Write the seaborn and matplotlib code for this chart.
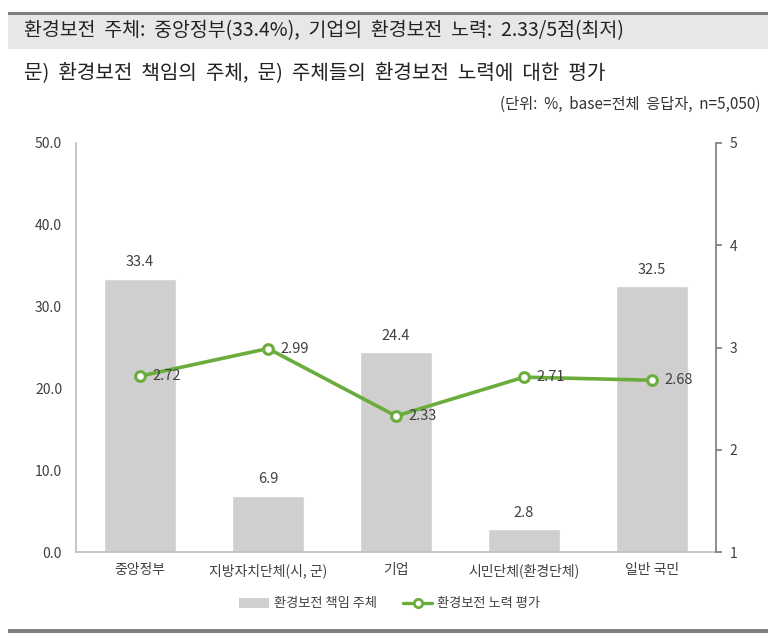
import matplotlib
matplotlib.use("Agg")
import matplotlib.pyplot as plt
import seaborn as sns
import pandas as pd
from matplotlib.lines import Line2D
from matplotlib.patches import Patch, Rectangle

categories = ["중앙정부", "지방자치단체(시, 군)", "기업", "시민단체(환경단체)", "일반 국민"]
share = [33.4, 6.9, 24.4, 2.8, 32.5]
effort = [2.72, 2.99, 2.33, 2.71, 2.68]
left_ticks = [0, 10, 20, 30, 40, 50]
right_ticks = [1, 2, 3, 4, 5]
bar_name = "환경보전 책임 주체"
line_name = "환경보전 노력 평가"
title = "환경보전  주체:  중앙정부(33.4%),  기업의  환경보전  노력:  2.33/5점(최저)"
subtitle = "문)  환경보전  책임의  주체,  문)  주체들의  환경보전  노력에  대한  평가"
unit = "(단위:  %,  base=전체  응답자,  n=5,050)"

sns.set_theme(style="white")
plt.rcParams['font.family'] = ['Noto Sans CJK KR', 'DejaVu Sans']

df = pd.DataFrame({"cat": categories, "share": share, "effort": effort})

fig = plt.figure(figsize=(7.78, 6.42), dpi=100)
W, H = 778, 642

def fx(x): return x / W
def fy(y): return 1 - y / H

# header band and rules
fig.patches.append(Rectangle((fx(8), fy(49)), fx(760), (49 - 12) / H, transform=fig.transFigure,
                             facecolor="#e7e7e7", edgecolor="none", zorder=0))
fig.patches.append(Rectangle((fx(8), fy(15)), fx(760), 3 / H, transform=fig.transFigure,
                             facecolor="#7f7f7f", edgecolor="none", zorder=1))
fig.patches.append(Rectangle((fx(8), fy(633)), fx(760), 4 / H, transform=fig.transFigure,
                             facecolor="#7f7f7f", edgecolor="none", zorder=1))
fig.text(fx(24), fy(31), title, fontsize=14, color="#222222", va="center", ha="left")
fig.text(fx(24), fy(73), subtitle, fontsize=14.5, color="#222222", va="center", ha="left")
fig.text(fx(760), fy(104), unit, fontsize=11, color="#333333", va="center", ha="right")

ax = fig.add_axes([fx(76), fy(552), (716 - 76) / W, (552 - 143) / H])
sns.barplot(data=df, x="cat", y="share", color="#d0cece", width=0.57, ax=ax,
            saturation=1, label=bar_name)
ax.set_ylim(0, 50)
ax.set_xlim(-0.5, 4.5)
ax.set_yticks(left_ticks)
ax.set_yticklabels([f"{v:.1f}" for v in left_ticks], fontsize=10, color="#404040")
ax.tick_params(axis="y", length=0, pad=10)
ax.tick_params(axis="x", length=0, pad=8, labelsize=10, labelcolor="#404040")
ax.set_xlabel("")
ax.set_ylabel("")
for s in ["top", "right"]:
    ax.spines[s].set_visible(False)
ax.spines["left"].set_color("#bfbfbf")
ax.spines["bottom"].set_color("#bfbfbf")
for i, v in enumerate(share):
    ax.text(i, v + 2.0, f"{v:.1f}", ha="center", va="center", fontsize=10.5, color="#404040")

ax2 = ax.twinx()
green = "#6aad3d"
sns.lineplot(x=list(range(len(categories))), y=effort, ax=ax2, color=green, lw=2.6,
             marker="o", markersize=7, markerfacecolor="white", markeredgecolor=green,
             markeredgewidth=2.2, label=line_name, legend=False)
ax2.set_ylim(1, 5)
ax2.set_yticks(right_ticks)
ax2.set_yticklabels([str(v) for v in right_ticks], fontsize=10, color="#404040")
ax2.tick_params(axis="y", length=4, color="#808080", pad=6, right=True)
for s in ["top", "left", "bottom"]:
    ax2.spines[s].set_visible(False)
ax2.spines["right"].set_color("#808080")
ax2.set_ylabel("")
for i, v in enumerate(effort):
    ax2.text(i + 0.1, v, f"{v:.2f}", ha="left", va="center", fontsize=10.5, color="#404040")

handles = [Patch(facecolor="#d0cece", edgecolor="none"),
           Line2D([0], [0], color=green, lw=2.4, marker="o", markersize=6,
                  markerfacecolor="white", markeredgecolor=green, markeredgewidth=2)]
fig.legend(handles, [bar_name, line_name], loc="center", bbox_to_anchor=(fx(390), fy(604)),
           ncol=2, frameon=False, fontsize=9.5, handlelength=2.2, columnspacing=2.0,
           handletextpad=0.4, labelcolor="#404040")
if ax.get_legend():
    ax.get_legend().remove()

fig.savefig("out.png", dpi=100)
